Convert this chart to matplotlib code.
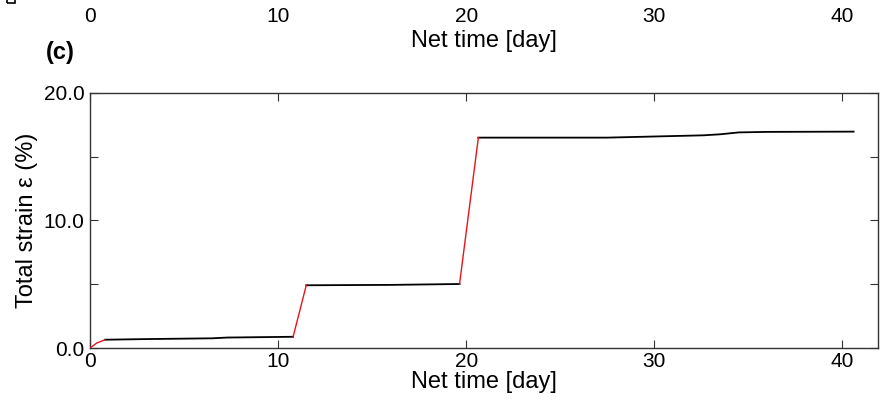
import numpy as np
import matplotlib.pyplot as plt
from matplotlib.patches import Rectangle

plt.rcParams['font.family'] = ['Liberation Sans', 'DejaVu Sans']

# ── Data: creep test, loading steps (red) and hold periods (black) ───────────
load_t = [[0.0, 0.35, 0.8], [10.8, 11.5], [19.65, 20.65]]
load_eps = [[0.0, 0.38, 0.65], [0.88, 4.92], [5.02, 16.5]]

hold_t = [[0.8, 3.0, 6.5, 7.3, 10.8],
          [11.5, 16.0, 19.65],
          [20.65, 27.5, 32.6, 33.5, 34.5, 36.0, 40.6]]
hold_eps = [[0.65, 0.70, 0.76, 0.82, 0.88],
            [4.92, 4.95, 5.02],
            [16.5, 16.5, 16.68, 16.76, 16.91, 16.95, 16.97]]

X_TICKS = [0, 10, 20, 30, 40]
Y_TICKS = [0, 10, 20]
Y_MINOR = [5, 15]
X_MAX = 41.9

# ── Figure ───────────────────────────────────────────────────────────────────
fig = plt.figure(figsize=(8.8, 4.11), dpi=100)
ax = fig.add_axes([90 / 880, 63 / 411, 788 / 880, 255 / 411])

for t, e in zip(hold_t, hold_eps):
    ax.plot(t, e, color='black', linewidth=1.3, zorder=3)
for t, e in zip(load_t, load_eps):
    ax.plot(t, e, color='#e8141b', linewidth=1.0, zorder=4)

ax.set_xlim(0, X_MAX)
ax.set_ylim(0, 20)
ax.set_xticks(X_TICKS)
ax.set_yticks(Y_TICKS)
ax.set_yticklabels([f'{v:.1f}' for v in Y_TICKS])
ax.set_yticks(Y_MINOR, minor=True)
ax.tick_params(which='both', direction='in', top=True, right=True,
               labelsize=15, color='#333333', length=6, width=0.8)
ax.tick_params(axis='x', pad=3)
ax.tick_params(axis='y', pad=4)
for s in ax.spines.values():
    s.set_color('#333333')
    s.set_linewidth(1.0)
ax.set_xlabel('Net time [day]', fontsize=17, labelpad=0)
ax.set_ylabel('Total strain ε (%)', fontsize=17, labelpad=4)

# remnant of the panel above, cut by the image edge
ax_b = fig.add_axes([90 / 880, 1 - 3 / 411, 788 / 880, 0.5])
ax_b.set_xlim(0, X_MAX)
ax_b.set_xticks(X_TICKS)
ax_b.set_yticks([])
ax_b.tick_params(axis='x', length=0, labelsize=15, pad=3)
for s in ax_b.spines.values():
    s.set_visible(False)
ax_b.set_xlabel('Net time [day]', fontsize=17, labelpad=3)
fig.add_artist(Rectangle((7 / 880, 1 - 3 / 411), 8 / 880, 8 / 411,
                         transform=fig.transFigure, fill=False,
                         edgecolor='black', linewidth=1.2))

fig.text(46 / 880, 1 - 53 / 411, '(c)', fontsize=17, fontweight='bold',
         va='center', ha='left')

fig.savefig('out.png', dpi=100)
